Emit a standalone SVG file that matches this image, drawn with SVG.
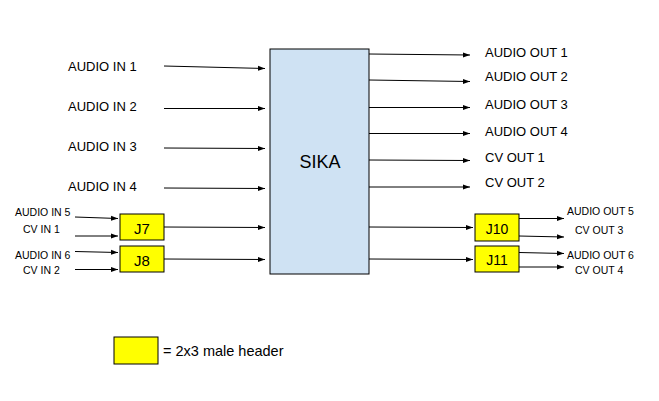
<svg xmlns="http://www.w3.org/2000/svg" width="659" height="401" viewBox="0 0 659 401">
<defs>
<style>
.t{font-family:"Liberation Sans",Arial,sans-serif;fill:#000}
.l{font-size:13px}
.s{font-size:10.5px}
.c{stroke:#000;stroke-width:1;fill:none;marker-end:url(#ah)}
.hdr{fill:#ffff00;stroke:#000;stroke-width:1}
</style>
<marker id="ah" markerUnits="userSpaceOnUse" markerWidth="8" markerHeight="6" refX="7" refY="3" orient="auto">
<path d="M0,0.5 L7,3 L0,5.5 z" fill="#000"/>
</marker>
</defs>
<rect width="659" height="401" fill="#fff"/>
<g id="sika">
<rect x="270" y="49" width="99" height="225" fill="#cfe2f3" stroke="#000" stroke-width="1"/>
<text class="t" x="320" y="168" font-size="18" text-anchor="middle">SIKA</text>
</g>
<g id="j7"><rect class="hdr" x="120" y="214" width="44" height="26"/><text class="t" x="142" y="234" font-size="15" text-anchor="middle">J7</text></g>
<g id="j8"><rect class="hdr" x="120" y="246" width="44" height="26"/><text class="t" x="142" y="266" font-size="15" text-anchor="middle">J8</text></g>
<g id="j10"><rect class="hdr" x="475" y="214" width="44" height="27"/><text class="t" x="497" y="233.5" font-size="14" text-anchor="middle">J10</text></g>
<g id="j11"><rect class="hdr" x="475" y="246" width="44" height="26"/><text class="t" x="497" y="265" font-size="14" text-anchor="middle">J11</text></g>
<g id="legend"><rect class="hdr" x="114" y="337" width="44" height="27"/><text class="t" x="163" y="355.5" font-size="14.5">= 2x3 male header</text></g>
<g id="labels">
<text class="t l" x="68" y="71">AUDIO IN 1</text>
<text class="t l" x="68" y="111">AUDIO IN 2</text>
<text class="t l" x="68" y="151">AUDIO IN 3</text>
<text class="t l" x="68" y="191">AUDIO IN 4</text>
<text class="t s" x="15" y="216">AUDIO IN 5</text>
<text class="t s" x="23" y="232.5">CV IN 1</text>
<text class="t s" x="15" y="259">AUDIO IN 6</text>
<text class="t s" x="23" y="273.5">CV IN 2</text>
<text class="t l" x="485" y="57">AUDIO OUT 1</text>
<text class="t l" x="485" y="81">AUDIO OUT 2</text>
<text class="t l" x="485" y="108.5">AUDIO OUT 3</text>
<text class="t l" x="485" y="135.5">AUDIO OUT 4</text>
<text class="t l" x="485" y="161.5">CV OUT 1</text>
<text class="t l" x="485" y="186.5">CV OUT 2</text>
<text class="t s" x="567" y="215">AUDIO OUT 5</text>
<text class="t s" x="575" y="233.5">CV OUT 3</text>
<text class="t s" x="567" y="259">AUDIO OUT 6</text>
<text class="t s" x="575" y="274">CV OUT 4</text>
</g>
<g id="connectors">
<line class="c" x1="164" y1="66" x2="265" y2="68.5"/>
<line class="c" x1="164" y1="108.5" x2="265" y2="108.5"/>
<line class="c" x1="164" y1="148" x2="265" y2="148.5"/>
<line class="c" x1="164" y1="188" x2="265" y2="188.5"/>
<line class="c" x1="75" y1="217" x2="118" y2="218.5"/>
<line class="c" x1="75" y1="236" x2="118" y2="236"/>
<line class="c" x1="75" y1="251.5" x2="118" y2="252.5"/>
<line class="c" x1="75" y1="269.5" x2="118" y2="269.5"/>
<line class="c" x1="164" y1="227" x2="265" y2="227.5"/>
<line class="c" x1="164" y1="259" x2="265" y2="259.5"/>
<line class="c" x1="369" y1="54" x2="470" y2="55"/>
<line class="c" x1="369" y1="80" x2="470" y2="81.5"/>
<line class="c" x1="369" y1="107.5" x2="470" y2="107.5"/>
<line class="c" x1="369" y1="133.5" x2="470" y2="133.5"/>
<line class="c" x1="369" y1="160" x2="470" y2="160.5"/>
<line class="c" x1="369" y1="187" x2="470" y2="187"/>
<line class="c" x1="369" y1="227" x2="473" y2="227.5"/>
<line class="c" x1="369" y1="259" x2="473" y2="259.5"/>
<line class="c" x1="519" y1="218.5" x2="564" y2="218.5"/>
<line class="c" x1="519" y1="236" x2="564" y2="237"/>
<line class="c" x1="519" y1="252.5" x2="564" y2="253.5"/>
<line class="c" x1="519" y1="267" x2="564" y2="267"/>
</g>
</svg>
